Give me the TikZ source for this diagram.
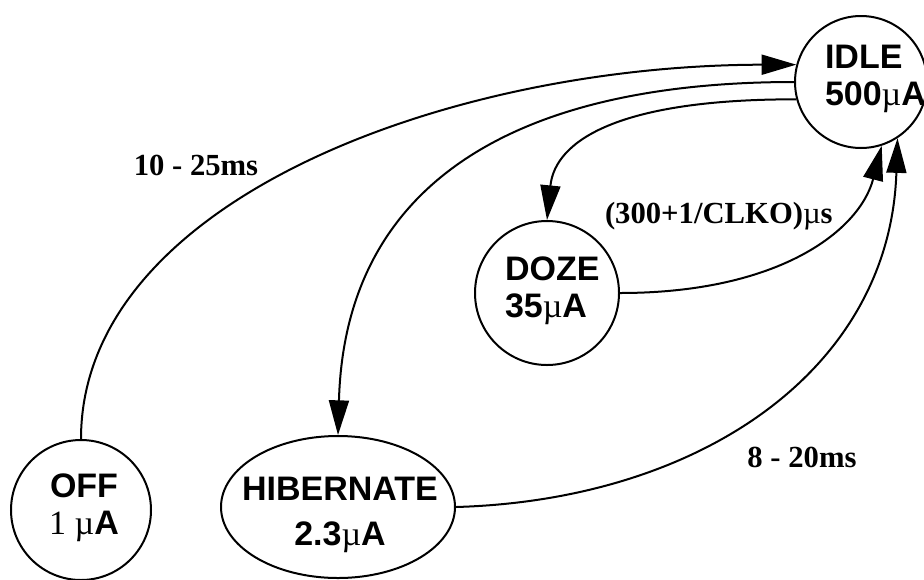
\documentclass[tikz,border=0pt]{standalone}
\usepackage{fontspec}
\setmainfont{Liberation Serif}
\newfontfamily\helv{Liberation Sans}
\usetikzlibrary{arrows.meta,shapes.geometric}

\tikzset{every picture/.style={line width=1.5pt}}
\tikzset{
  state/.style={draw, circle, inner sep=0pt},
  stext/.style={inner sep=0pt, font=\helv\bfseries\fontsize{25.5}{28}\selectfont},
  trans/.style={-{Triangle[length=26pt,width=15pt]}},
  tlabel/.style={inner sep=0pt, font=\bfseries\fontsize{23}{26}\selectfont}
}
\newcommand{\mic}{{\rmfamily\mdseries µ}}

\begin{document}
\begin{tikzpicture}[x=0.75pt,y=0.75pt,yscale=-1,xscale=1]
\useasboundingbox (0,0) rectangle (924,579);

% States
\node [state, minimum size=99pt] (idle) at (861,82) {};
\node [state, minimum size=108pt] (doze) at (547,293) {};
\node [state, minimum size=105pt] (off) at (81,510) {};
\node [state, ellipse, minimum width=175.5pt, minimum height=106.5pt] (hib) at (338,507) {};

% State texts
\node [stext, align=left, anchor=west] (idletext) at (824,79) {IDLE\\500\mic A};
\node [stext, align=left, anchor=west] (dozetext) at (504,291) {DOZE\\35\mic A};
\node [stext, align=center] (offtext) at (84,508) {OFF\\{\rmfamily\mdseries 1 µ}A};
\node [stext, align=center] (hibtext) at (340,515) {HIBERNATE\\[6pt]2.3\mic A};

% Transitions
\draw [trans] (off.north) .. controls (81,200) and (450,65) .. (idle.165);
\draw [trans] (idle.180) .. controls (520,82) and (345,180) .. (hib.north);
\draw [trans] (idle.195) .. controls (620,99) and (555,140) .. (doze.north);
\draw [trans] (doze.east) .. controls (780,293) and (860,230) .. (idle.288);
\draw [trans] (hib.east) .. controls (700,500) and (890,370) .. (idle.303);

% Labels
\node [tlabel] (lbloff) at (196,165) {10 - 25ms};
\node [tlabel, anchor=west] (lbldoze) at (604,216) {(300+1/CLKO)\mic s};
\node [tlabel] (lblhib) at (802,457) {8 - 20ms};

\end{tikzpicture}
\end{document}
